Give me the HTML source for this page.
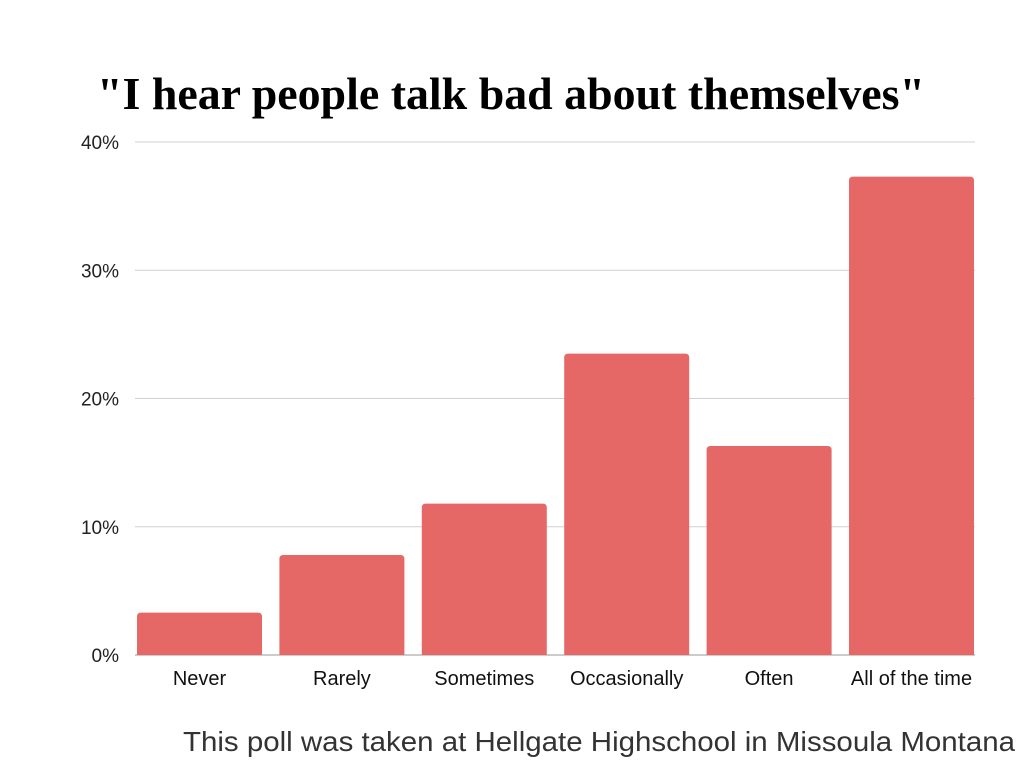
<!DOCTYPE html>
<html><head><meta charset="utf-8"><style>
html,body{margin:0;padding:0;background:#fff;}
svg{display:block;}
</style></head><body>
<svg id="chart" width="1024" height="768" xmlns="http://www.w3.org/2000/svg">
<rect width="1024" height="768" fill="#fff"/>
<text x="97" y="109" textLength="828" lengthAdjust="spacingAndGlyphs" font-family="Liberation Serif, serif" font-weight="bold" font-size="46" fill="#000">"I hear people talk bad about themselves"</text>
<g id="grid"></g>
<g id="bars"></g>
<g id="labels"></g>
<text x="183" y="751" textLength="832" lengthAdjust="spacingAndGlyphs" font-family="Liberation Sans, sans-serif" font-size="28" fill="#333">This poll was taken at Hellgate Highschool in Missoula Montana</text>
</svg>
<script>
const categories = ["Never","Rarely","Sometimes","Occasionally","Often","All of the time"];
const values = [3.3, 7.8, 11.8, 23.5, 16.3, 37.3];
const ticks = [0, 10, 20, 30, 40];
const tickLabels = ["0%","10%","20%","30%","40%"];
const NS="http://www.w3.org/2000/svg";
const x0=135,x1=975,y0=655,y1=142,yMax=40;
const bx0=137, band=142.4, bw=125;
const y=v=>y0-(v/yMax)*(y0-y1);
const xb=i=>bx0+i*band;
function mk(t,a,p){const e=document.createElementNS(NS,t);for(const k in a)e.setAttribute(k,a[k]);p.appendChild(e);return e;}
const grid=document.getElementById('grid'),bars=document.getElementById('bars'),labels=document.getElementById('labels');
ticks.forEach((t,i)=>{
  const l=mk('line',{x1:x0,x2:x1,y1:y(t),y2:y(t),stroke:t===0?'#999':'#d0d0d0','stroke-width':1},grid);
  
  
  const tx=mk('text',{x:119,y:y(t)+7,'text-anchor':'end','font-family':'Liberation Sans, sans-serif','font-size':19,fill:'#222'},labels);
  tx.textContent=tickLabels[i];
  
  
});
values.forEach((v,i)=>{
  const x=xb(i),top=y(v),r=4;
  const p=mk('path',{d:`M${x},${y0}V${top+r}Q${x},${top} ${x+r},${top}H${x+bw-r}Q${x+bw},${top} ${x+bw},${top+r}V${y0}Z`,fill:'#e66866'},bars);
  
  
  const tx=mk('text',{x:x+bw/2,y:685,'text-anchor':'middle','font-family':'Liberation Sans, sans-serif','font-size':20,fill:'#111'},labels);
  tx.textContent=categories[i];
  
  
});
</script>
</body></html>
